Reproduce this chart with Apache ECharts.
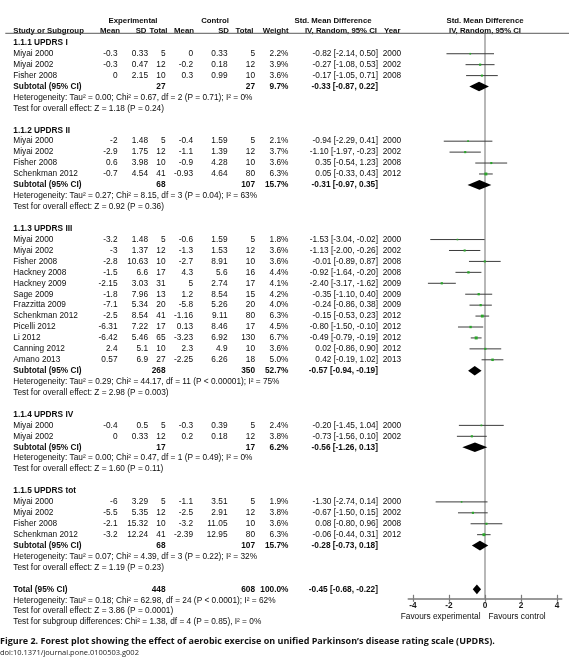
<!DOCTYPE html>
<html><head><meta charset="utf-8">
<script src="https://cdn.jsdelivr.net/npm/echarts@6/dist/echarts.min.js"></script>
<style>html,body{margin:0;padding:0;background:#fff}#c{width:578px;height:667px}</style>
</head><body><div id="c"></div>
<script>
// ---------------- DATA ----------------
const xTicks = [-4, -2, 0, 2, 4];
const groupLabels = ['1.1.1 UPDRS I', '1.1.2 UPDRS II', '1.1.3 UPDRS III', '1.1.4 UPDRS IV', '1.1.5 UPDRS tot'];
const studyGroup = [0,0,0, 1,1,1,1, 2,2,2,2,2,2,2,2,2,2,2,2, 3,3, 4,4,4,4];
const studyNames = ['Miyai 2000','Miyai 2002','Fisher 2008',
  'Miyai 2000','Miyai 2002','Fisher 2008','Schenkman 2012',
  'Miyai 2000','Miyai 2002','Fisher 2008','Hackney 2008','Hackney 2009','Sage 2009','Frazzitta 2009','Schenkman 2012','Picelli 2012','Li 2012','Canning 2012','Amano 2013',
  'Miyai 2000','Miyai 2002',
  'Miyai 2000','Miyai 2002','Fisher 2008','Schenkman 2012'];
const expMean = [-0.3,-0.3,0, -2,-2.9,0.6,-0.7, -3.2,-3,-2.8,-1.5,-2.15,-1.8,-7.1,-2.5,-6.31,-6.42,2.4,0.57, -0.4,0, -6,-5.5,-2.1,-3.2];
const expSD = [0.33,0.47,2.15, 1.48,1.75,3.98,4.54, 1.48,1.37,10.63,6.6,3.03,7.96,5.34,8.54,7.22,5.46,5.1,6.9, 0.5,0.33, 3.29,5.35,15.32,12.24];
const expN = [5,12,10, 5,12,10,41, 5,12,10,17,31,13,20,41,17,65,10,27, 5,12, 5,12,10,41];
const ctrlMean = [0,-0.2,0.3, -0.4,-1.1,-0.9,-0.93, -0.6,-1.3,-2.7,4.3,5,1.2,-5.8,-1.16,0.13,-3.23,2.3,-2.25, -0.3,0.2, -1.1,-2.5,-3.2,-2.39];
const ctrlSD = [0.33,0.18,0.99, 1.59,1.39,4.28,4.64, 1.59,1.53,8.91,5.6,2.74,8.54,5.26,9.11,8.46,6.92,4.9,6.26, 0.39,0.18, 3.51,2.91,11.05,12.95];
const ctrlN = [5,12,10, 5,12,10,80, 5,12,10,16,17,15,20,80,17,130,10,18, 5,12, 5,12,10,80];
const weight = [2.2,3.9,3.6, 2.1,3.7,3.6,6.3, 1.8,3.6,3.6,4.4,4.1,4.2,4.0,6.3,4.5,6.7,3.6,5.0, 2.4,3.8, 1.9,3.8,3.6,6.3];
const smd = [-0.82,-0.27,-0.17, -0.94,-1.10,0.35,0.05, -1.53,-1.13,-0.01,-0.92,-2.40,-0.35,-0.24,-0.15,-0.80,-0.49,0.02,0.42, -0.20,-0.73, -1.30,-0.67,0.08,-0.06];
const ciLow = [-2.14,-1.08,-1.05, -2.29,-1.97,-0.54,-0.33, -3.04,-2.00,-0.89,-1.64,-3.17,-1.10,-0.86,-0.53,-1.50,-0.79,-0.86,-0.19, -1.45,-1.56, -2.74,-1.50,-0.80,-0.44];
const ciHigh = [0.50,0.53,0.71, 0.41,-0.23,1.23,0.43, -0.02,-0.26,0.87,-0.20,-1.62,0.40,0.38,0.23,-0.10,-0.19,0.90,1.02, 1.04,0.10, 0.14,0.15,0.96,0.31];
const studyYear = [2000,2002,2008, 2000,2002,2008,2012, 2000,2002,2008,2008,2009,2009,2009,2012,2012,2012,2012,2013, 2000,2002, 2000,2002,2008,2012];

const subExpN = [27,68,268,17,68];
const subCtrlN = [27,107,350,17,107];
const subWeight = [9.7,15.7,52.7,6.2,15.7];
const subSmd = [-0.33,-0.31,-0.57,-0.56,-0.28];
const subLow = [-0.87,-0.97,-0.94,-1.26,-0.73];
const subHigh = [0.22,0.35,-0.19,0.13,0.18];
const subHet = [
  'Tau² = 0.00; Chi² = 0.67, df = 2 (P = 0.71); I² = 0%',
  'Tau² = 0.27; Chi² = 8.15, df = 3 (P = 0.04); I² = 63%',
  'Tau² = 0.29; Chi² = 44.17, df = 11 (P < 0.00001); I² = 75%',
  'Tau² = 0.00; Chi² = 0.47, df = 1 (P = 0.49); I² = 0%',
  'Tau² = 0.07; Chi² = 4.39, df = 3 (P = 0.22); I² = 32%'];
const subTest = ['Z = 1.18 (P = 0.24)','Z = 0.92 (P = 0.36)','Z = 2.98 (P = 0.003)','Z = 1.60 (P = 0.11)','Z = 1.19 (P = 0.23)'];

const totalExpN = 448, totalCtrlN = 608, totalWeight = 100.0;
const totalSmd = -0.45, totalLow = -0.68, totalHigh = -0.22;
const totalHet = 'Tau² = 0.18; Chi² = 62.98, df = 24 (P < 0.0001); I² = 62%';
const totalTest = 'Z = 3.86 (P = 0.0001)';
const subgroupDiff = 'Chi² = 1.38, df = 4 (P = 0.85), I² = 0%';
const favoursLeft = 'Favours experimental', favoursRight = 'Favours control';
const caption = 'Figure 2. Forest plot showing the effect of aerobic exercise on unified Parkinson’s disease rating scale (UPDRS).';
const doiText = 'doi:10.1371/journal.pone.0100503.g002';

// ---------------- LAYOUT ----------------
const FF = '"Liberation Sans", Arial, sans-serif';
const FS = 8.3;
const HFS = 7.8;
const TXT = '#0d0d0d';
const Y_MIN = -0.87, Y_MAX = 50.82;
const COL = {name:13.3, eM:117.5, eSD:148, eN:165.5, cM:193, cSD:227.5, cN:255, w:288.5, ci:378, yr:382.7};

const rows = [];
const studyRow = [], subRow = [];
let r = 0;
groupLabels.forEach((g, gi) => {
  rows.push({r, type:'group', gi}); r++;
  studyGroup.forEach((sg, si) => { if (sg === gi) { rows.push({r, type:'study', si}); studyRow[si] = r; r++; } });
  rows.push({r, type:'sub', gi}); subRow[gi] = r; r++;
  rows.push({r, type:'het', gi}); r++;
  rows.push({r, type:'test', gi}); r++;
  r++;
});
const totalRow = r;
rows.push({r, type:'total'}); r++;
rows.push({r, type:'totHet'}); r++;
rows.push({r, type:'totTest'}); r++;
rows.push({r, type:'subDiff'}); r++;
rows.push({r:-2, type:'h1'});
rows.push({r:-1.1, type:'h2'});
rows.push({r:Y_MAX, type:'fav'});

function fmtCI(m, l, h) { return m.toFixed(2) + ' [' + l.toFixed(2) + ', ' + h.toFixed(2) + ']'; }
function T(x, y, s, align, bold, size) {
  return {type:'text', x: x, y: y, silent:true, style: {text: String(s), fill: TXT, align: align || 'left', verticalAlign:'middle',
    fontSize: size || FS, fontFamily: FF, fontWeight: bold ? 'bold' : 'normal'}};
}

function renderTable(params, api) {
  const row = rows[params.dataIndex];
  const y = api.coord([0, row.r])[1];
  const x0 = api.coord([0, row.r])[0];
  const c = [];
  switch (row.type) {
    case 'h1':
      c.push(T(133, y, 'Experimental', 'center', true, HFS));
      c.push(T(215, y, 'Control', 'center', true, HFS));
      c.push(T(333, y, 'Std. Mean Difference', 'center', true, HFS));
      c.push(T(x0, y, 'Std. Mean Difference', 'center', true, HFS));
      break;
    case 'h2': {
      c.push(T(COL.name, y, 'Study or Subgroup', 'left', true, HFS));
      c.push(T(120, y, 'Mean', 'right', true, HFS));
      c.push(T(146.5, y, 'SD', 'right', true, HFS));
      c.push(T(167.5, y, 'Total', 'right', true, HFS));
      c.push(T(194, y, 'Mean', 'right', true, HFS));
      c.push(T(229, y, 'SD', 'right', true, HFS));
      c.push(T(253.5, y, 'Total', 'right', true, HFS));
      c.push(T(288.5, y, 'Weight', 'right', true, HFS));
      c.push(T(377, y, 'IV, Random, 95% CI', 'right', true, HFS));
      c.push(T(384, y, 'Year', 'left', true, HFS));
      c.push(T(x0, y, 'IV, Random, 95% CI', 'center', true, HFS));
      const ly = api.coord([0, Y_MIN])[1];
      c.push({type:'line', silent:true, shape:{x1:5.3, y1:ly, x2:569, y2:ly}, style:{stroke:'#5a5a5a', lineWidth:1}});
      break;
    }
    case 'group':
      c.push(T(COL.name, y, groupLabels[row.gi], 'left', true));
      break;
    case 'study': {
      const i = row.si;
      c.push(T(COL.name, y, studyNames[i]));
      c.push(T(COL.eM, y, expMean[i], 'right'));
      c.push(T(COL.eSD, y, expSD[i], 'right'));
      c.push(T(COL.eN, y, expN[i], 'right'));
      c.push(T(COL.cM, y, ctrlMean[i], 'right'));
      c.push(T(COL.cSD, y, ctrlSD[i], 'right'));
      c.push(T(COL.cN, y, ctrlN[i], 'right'));
      c.push(T(COL.w, y, weight[i].toFixed(1) + '%', 'right'));
      c.push(T(COL.ci, y, fmtCI(smd[i], ciLow[i], ciHigh[i]), 'right'));
      c.push(T(COL.yr, y, studyYear[i]));
      break;
    }
    case 'sub': {
      const g = row.gi;
      c.push(T(COL.name, y, 'Subtotal (95% CI)', 'left', true));
      c.push(T(COL.eN, y, subExpN[g], 'right', true));
      c.push(T(COL.cN, y, subCtrlN[g], 'right', true));
      c.push(T(COL.w, y, subWeight[g].toFixed(1) + '%', 'right', true));
      c.push(T(COL.ci, y, fmtCI(subSmd[g], subLow[g], subHigh[g]), 'right', true));
      break;
    }
    case 'het':
      c.push(T(COL.name, y, 'Heterogeneity: ' + subHet[row.gi]));
      break;
    case 'test':
      c.push(T(COL.name, y, 'Test for overall effect: ' + subTest[row.gi]));
      break;
    case 'total':
      c.push(T(COL.name, y, 'Total (95% CI)', 'left', true));
      c.push(T(COL.eN, y, totalExpN, 'right', true));
      c.push(T(COL.cN, y, totalCtrlN, 'right', true));
      c.push(T(COL.w, y, totalWeight.toFixed(1) + '%', 'right', true));
      c.push(T(COL.ci, y, fmtCI(totalSmd, totalLow, totalHigh), 'right', true));
      break;
    case 'totHet':
      c.push(T(COL.name, y, 'Heterogeneity: ' + totalHet));
      break;
    case 'totTest':
      c.push(T(COL.name, y, 'Test for overall effect: ' + totalTest));
      break;
    case 'subDiff':
      c.push(T(COL.name, y, 'Test for subgroup differences: ' + subgroupDiff));
      break;
    case 'fav':
      c.push(T(x0 - 4.5, y + 18.7, favoursLeft, 'right'));
      c.push(T(x0 + 3.5, y + 18.7, favoursRight, 'left'));
      break;
  }
  return {type:'group', children:c};
}

const studyData = smd.map((m, i) => [m, ciLow[i], ciHigh[i], studyRow[i], weight[i]]);
const diamondData = subSmd.map((m, g) => [m, subLow[g], subHigh[g], subRow[g]]);
diamondData.push([totalSmd, totalLow, totalHigh, totalRow]);

function renderStudy(params, api) {
  const rr = api.value(3);
  const p = api.coord([api.value(0), rr]);
  const a = api.coord([api.value(1), rr]);
  const b = api.coord([api.value(2), rr]);
  const s = 1.0 + api.value(4) * 0.3;
  return {type:'group', children:[
    {type:'line', shape:{x1:a[0], y1:a[1], x2:b[0], y2:b[1]}, style:{stroke:'#3c3c3c', lineWidth:1}},
    {type:'rect', shape:{x:p[0]-s/2, y:p[1]-s/2, width:s, height:s}, style:{fill:'#2aa52a'}}
  ]};
}
function renderDiamond(params, api) {
  const rr = api.value(3);
  const p = api.coord([api.value(0), rr]);
  const a = api.coord([api.value(1), rr]);
  const b = api.coord([api.value(2), rr]);
  const h = 4.8;
  return {type:'polygon', shape:{points:[[a[0],p[1]],[p[0],p[1]-h],[b[0],p[1]],[p[0],p[1]+h]]}, style:{fill:'#000'}};
}

const chart = echarts.init(document.getElementById('c'), null, {renderer:'canvas'});
chart.setOption({
  animation:false,
  backgroundColor:'#fff',
  title:{text:caption, subtext:doiText, left:0, top:636.5, padding:0, itemGap:3,
    textStyle:{fontFamily:'"Open Sans", sans-serif', fontWeight:'bold', fontSize:9, color:'#111'},
    subtextStyle:{fontFamily:'"Open Sans", sans-serif', fontSize:7.5, color:'#222'}},
  grid:{left:408.3, width:153.4, top:33.3, height:565, containLabel:false},
  xAxis:[{
    type:'value', min:-4.26, max:4.26, position:'bottom',
    axisLine:{show:true, onZero:false, lineStyle:{color:'#7a7a7a', width:1.6}},
    axisTick:{show:true, customValues:xTicks, length:3.5, lineStyle:{color:'#7a7a7a', width:1.2}},
    axisLabel:{show:true, customValues:xTicks, margin:3, fontSize:8.3, fontWeight:'bold', color:'#1a1a1a', fontFamily:FF},
    splitLine:{show:false}
  },{
    type:'value', min:-4.26, max:4.26, position:'bottom', gridIndex:0,
    axisLine:{show:false, onZero:false},
    axisTick:{show:true, inside:true, customValues:xTicks, length:3.5, lineStyle:{color:'#7a7a7a', width:1.2}},
    axisLabel:{show:false}, splitLine:{show:false}
  }],
  yAxis:{
    type:'value', inverse:true, min:Y_MIN, max:Y_MAX,
    axisLine:{show:true, onZero:true, lineStyle:{color:'#a6a6a6', width:1.6}},
    axisTick:{show:false}, axisLabel:{show:false}, splitLine:{show:false}
  },
  series:[
    {type:'custom', name:'table', renderItem:renderTable, data:rows.map(o => [0, o.r]), clip:false, silent:true, z:5},
    {type:'custom', name:'studies', renderItem:renderStudy, data:studyData, clip:false, silent:true, z:3,
      encode:{x:[0,1,2], y:3}},
    {type:'custom', name:'pooled', renderItem:renderDiamond, data:diamondData, clip:false, silent:true, z:4,
      encode:{x:[0,1,2], y:3}}
  ]
});
</script></body></html>
